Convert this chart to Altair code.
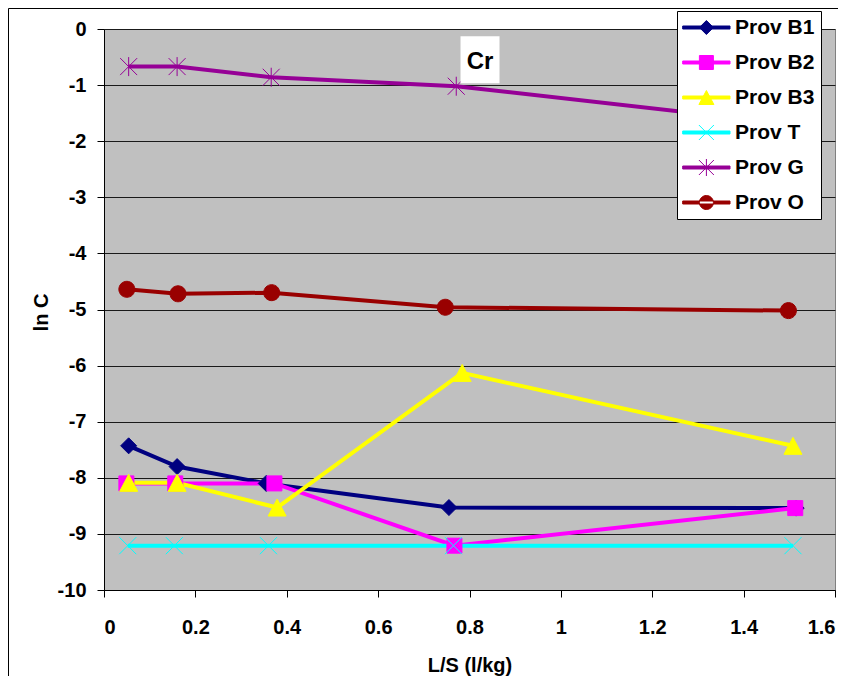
import altair as alt
import pandas as pd

# ---------------- data ----------------
SERIES = ["Prov B1", "Prov B2", "Prov B3", "Prov T", "Prov G", "Prov O"]
COLORS = ["#000080", "#FF00FF", "#FFFF00", "#00FFFF", "#960096", "#990000"]

X_B1 = [0.054, 0.160, 0.355, 0.755, 1.515]
Y_B1 = [-7.43, -7.80, -8.10, -8.53, -8.54]

X_B2 = [0.049, 0.156, 0.373, 0.767, 1.513]
Y_B2 = [-8.10, -8.10, -8.10, -9.21, -8.54]

X_B3 = [0.054, 0.160, 0.379, 0.784, 1.508]
Y_B3 = [-8.09, -8.09, -8.53, -6.13, -7.43]

X_T = [0.052, 0.154, 0.360, 0.765, 1.508]
Y_T = [-9.21, -9.21, -9.21, -9.21, -9.21]

X_G = [0.054, 0.160, 0.366, 0.771, 1.500]
Y_G = [-0.67, -0.67, -0.86, -1.02, -1.69]

X_O = [0.050, 0.162, 0.367, 0.747, 1.498]
Y_O = [-4.64, -4.72, -4.70, -4.96, -5.02]

X_TICKS = [0, 0.2, 0.4, 0.6, 0.8, 1.0, 1.2, 1.4, 1.6]
Y_TICKS = [-10, -9, -8, -7, -6, -5, -4, -3, -2, -1, 0]

LABEL_TEXT = ["Cr"]
LABEL_X = [0.823]
LABEL_Y = [-0.548]

X_TITLE = "L/S (l/kg)"
Y_TITLE = "ln C"

# ---------------- build table ----------------
XS = [X_B1, X_B2, X_B3, X_T, X_G, X_O]
YS = [Y_B1, Y_B2, Y_B3, Y_T, Y_G, Y_O]
rows = []
for name, xs, ys in zip(SERIES, XS, YS):
    for xv, yv in zip(xs, ys):
        rows.append({"series": name, "x": xv, "y": yv})
df = pd.DataFrame(rows)
ann_df = pd.DataFrame({"x": LABEL_X, "y": LABEL_Y, "label": LABEL_TEXT})

FONT = "Liberation Sans"

# marker shapes (pixel units, used with size=4)
PLOT_SHAPES = [
    "M0,-8L8,0L0,8L-8,0Z",
    "M-7.5,-7.5H7.5V7.5H-7.5Z",
    "M0,-8.5L9,8.5H-9Z",
    "M-8.5,-8.5L8.5,8.5M-8.5,8.5L8.5,-8.5",
    "M-8.5,-8.5L8.5,8.5M-8.5,8.5L8.5,-8.5M0,-9.5V9.5",
    "M-8,0A8,8,0,1,0,8,0A8,8,0,1,0,-8,0Z",
]
LINE = "M-10.8,-1.5H36.5V1.5H-10.8Z"
LEGEND_SHAPES = [
    LINE + "M12.9,-7L19.9,0L12.9,7L5.9,0Z",
    LINE + "M5.9,-7H19.9V7H5.9Z",
    LINE + "M12.9,-7L20.4,7H5.4Z",
    LINE + "M5.4,-7.5L20.4,7.5M5.4,7.5L20.4,-7.5",
    LINE + "M5.4,-7.5L20.4,7.5M5.4,7.5L20.4,-7.5M12.9,-8.5V8.5",
    LINE + "M5.9,0A7,7,0,1,0,19.9,0A7,7,0,1,0,5.9,0Z",
]

x_enc = alt.X(
    "x:Q",
    scale=alt.Scale(domain=[0, 1.6], nice=False, zero=False),
    axis=alt.Axis(
        values=X_TICKS, format="~g", title=X_TITLE,
        labelFont=FONT, labelFontSize=20, labelFontWeight="bold", labelColor="black",
        labelPadding=20, tickSize=7, tickColor="black", domainColor="black",
        grid=False, titleFont=FONT, titleFontSize=20, titleFontWeight="bold",
        titleColor="black", titleBaseline="alphabetic", titleY=81,
    ),
)
y_enc = alt.Y(
    "y:Q",
    scale=alt.Scale(domain=[-10, 0], nice=False),
    axis=alt.Axis(
        values=Y_TICKS, labelExpr="'' + datum.value", title=Y_TITLE,
        labelFont=FONT, labelFontSize=20, labelFontWeight="bold", labelColor="black",
        labelPadding=11, tickSize=7, tickColor="black", domainColor="black",
        grid=True, gridColor="#1a1a1a", gridWidth=1,
        titleFont=FONT, titleFontSize=20, titleFontWeight="bold", titleColor="black",
        titleBaseline="alphabetic", titleX=-57, titleY=283, titleAngle=-90,
        titleAlign="center",
    ),
)

base = alt.Chart(df)

frame = alt.Chart(alt.Data(values=[{}])).mark_rect(
    fill="transparent", stroke="black", strokeWidth=1
).encode(x=alt.value(-95.5), x2=alt.value(760), y=alt.value(-20.5), y2=alt.value(700))

lines = base.mark_line(strokeWidth=4).encode(
    x=x_enc, y=y_enc,
    color=alt.Color("series:N", scale=alt.Scale(domain=SERIES, range=COLORS), legend=None),
)

points = base.mark_point(filled=True, opacity=1, strokeWidth=1, size=4).encode(
    x=x_enc, y=y_enc,
    shape=alt.Shape("series:N", scale=alt.Scale(domain=SERIES, range=PLOT_SHAPES), legend=None),
    fill=alt.Fill("series:N", scale=alt.Scale(domain=SERIES, range=COLORS), legend=None),
    stroke=alt.Stroke("series:N", scale=alt.Scale(domain=SERIES, range=COLORS), legend=None),
)

leg = alt.Legend(
    title=None, orient="none", legendX=573, legendY=-18,
    symbolSize=4, symbolStrokeWidth=1,
    labelFont=FONT, labelFontSize=21, labelFontWeight="bold", labelColor="black",
    labelOffset=31, rowPadding=13, padding=6, labelLimit=300,
    fillColor="white", strokeColor="black", cornerRadius=0,
)

legend_layer = base.transform_filter("datum.y > 100").mark_point(
    filled=True, opacity=1, strokeWidth=1, size=4
).encode(
    x=x_enc, y=y_enc,
    shape=alt.Shape("series:N", scale=alt.Scale(domain=SERIES, range=LEGEND_SHAPES), legend=leg),
    fill=alt.Fill("series:N", scale=alt.Scale(domain=SERIES, range=COLORS), legend=leg),
    stroke=alt.Stroke("series:N", scale=alt.Scale(domain=SERIES, range=COLORS), legend=leg),
)

ann = alt.Chart(ann_df)
box = ann.mark_point(
    shape="M-19.5,-23.5H19.5V23.5H-19.5Z", size=4, filled=True, fill="white",
    opacity=1, strokeWidth=0,
).encode(x=x_enc, y=y_enc)
label = ann.mark_text(
    font=FONT, fontSize=24, fontWeight="bold", color="black",
    align="center", baseline="middle", dy=2,
).encode(x=x_enc, y=y_enc, text="label:N")

chart = alt.layer(frame, lines, points, box, label, legend_layer).resolve_scale(
    shape="independent", fill="independent", stroke="independent"
).properties(
    width=731, height=561,
    autosize=alt.AutoSizeParams(type="none"),
    padding={"left": 96, "top": 21, "right": 3, "bottom": 86},
    background="white",
).configure_view(
    fill="#C0C0C0", stroke="#808080", strokeWidth=1
)

chart.save("out.html", embed_options={"renderer": "svg", "actions": False})
